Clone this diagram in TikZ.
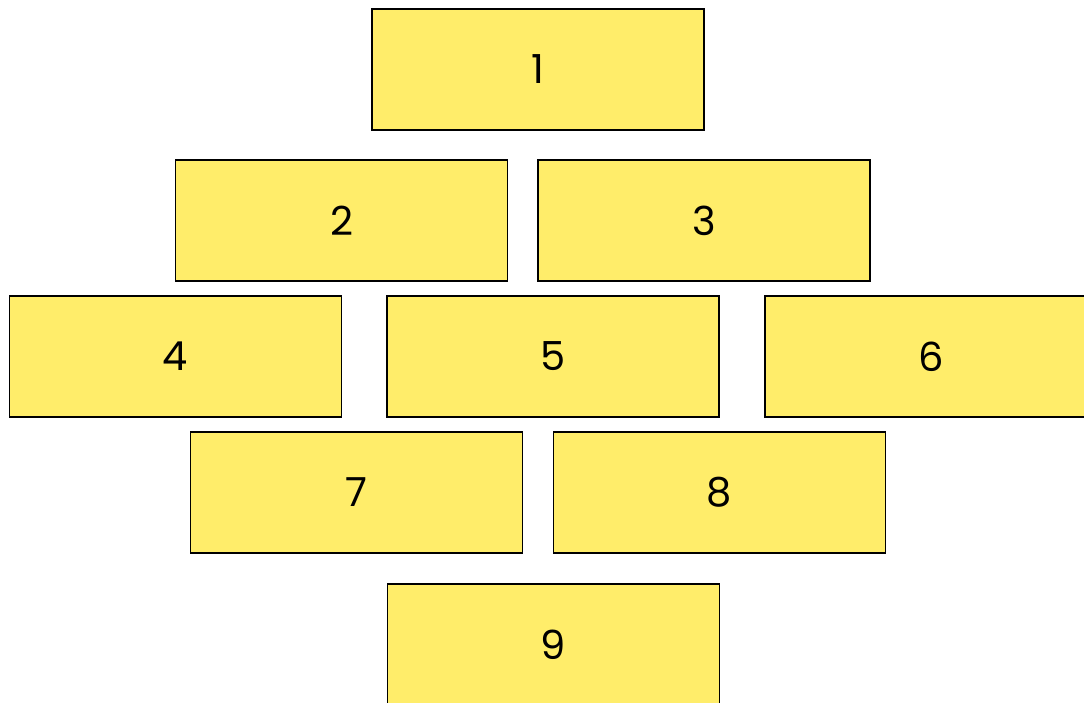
\documentclass[tikz,border=0pt]{standalone}
\usepackage{fontspec}
\setmainfont{Poppins}
\definecolor{boxyellow}{HTML}{FFED6A}
\begin{document}
\begin{tikzpicture}[x=1pt,y=-1pt,
  brick/.style={draw=black,line width=1.5pt,fill=boxyellow,minimum width=332pt,minimum height=121pt,inner sep=0pt,font=\fontsize{40}{40}\selectfont,text=black}]
\useasboundingbox (0,0) rectangle (1084,702);
\clip (0,0) rectangle (1084,702);
\node[brick] (n1) at (538,69.5) {1};
\node[brick] (n2) at (341.5,220.5) {2};
\node[brick] (n3) at (704,220.5) {3};
\node[brick] (n4) at (175.5,356.5) {4};
\node[brick] (n5) at (553,356.5) {5};
\node[brick] (n6) at (931,356.5) {6};
\node[brick] (n7) at (356.5,492.5) {7};
\node[brick] (n8) at (719.5,492.5) {8};
\node[brick] (n9) at (553.5,644.5) {9};
\end{tikzpicture}
\end{document}
